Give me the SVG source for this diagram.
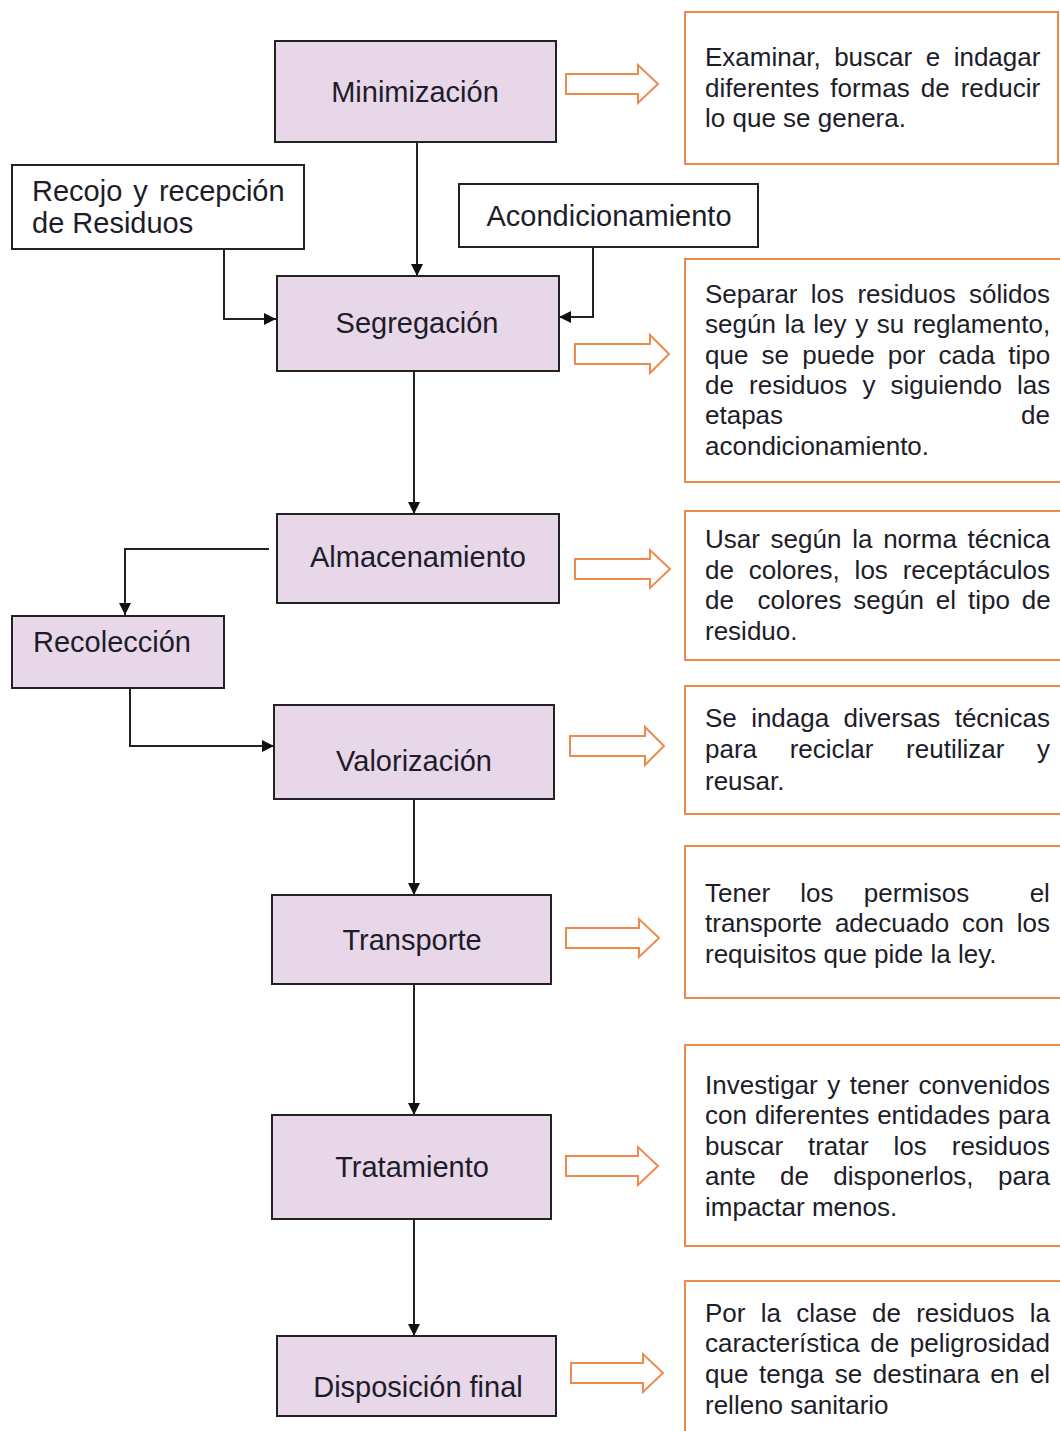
<svg xmlns="http://www.w3.org/2000/svg" width="1060" height="1431" viewBox="0 0 1060 1431">
  <style>
    .step { fill: #e8d6e9; stroke: #222; stroke-width: 2; }
    .side { fill: #fff; stroke: #222; stroke-width: 2; }
    .note { fill: #fff; stroke: #ef8a4e; stroke-width: 2; }
    .block { fill: #fff; stroke: #ef8a4e; stroke-width: 2; stroke-linejoin: miter; }
    .lbl { font-family: "Liberation Sans", Arial, sans-serif; font-size: 29px; fill: #1d1d29; }
    .mid { text-anchor: middle; }
    .txt { font-family: "Liberation Sans", Arial, sans-serif; font-size: 26px; fill: #1d1d29; }
    .wire { fill: none; stroke: #222; stroke-width: 2; }
  </style>
  <defs>
    <marker id="head" viewBox="0 0 10 10" refX="10" refY="5" markerWidth="12" markerHeight="12" markerUnits="userSpaceOnUse" orient="auto">
      <path d="M0,0 L10,5 L0,10 Z" fill="#111"/>
    </marker>
  </defs>

  <rect width="1060" height="1431" fill="#fff"/>

  <!-- connectors -->
  <g id="connectors">
    <path class="wire" d="M417,142 V276" marker-end="url(#head)"/>
    <path class="wire" d="M224,249 V319 H276" marker-end="url(#head)"/>
    <path class="wire" d="M593,247 V317 H559" marker-end="url(#head)"/>
    <path class="wire" d="M414,371 V514" marker-end="url(#head)"/>
    <path class="wire" d="M269,549 H125 V615" marker-end="url(#head)"/>
    <path class="wire" d="M130,688 V746 H274" marker-end="url(#head)"/>
    <path class="wire" d="M414,799 V895" marker-end="url(#head)"/>
    <path class="wire" d="M414,984 V1115" marker-end="url(#head)"/>
    <path class="wire" d="M414,1219 V1336" marker-end="url(#head)"/>
  </g>

  <!-- hollow arrows pointing to the notes -->
  <g id="pointers">
    <path class="block" d="M566,74 H638 V65 L658,84 L638,103 V94 H566 Z"/>
    <path class="block" d="M575,344 H650 V335 L669,354 L650,373 V364 H575 Z"/>
    <path class="block" d="M575,559 H650 V550 L670,569 L650,588 V579 H575 Z"/>
    <path class="block" d="M570,736 H645 V727 L664,746 L645,765 V756 H570 Z"/>
    <path class="block" d="M566,928 H639 V919 L659,938 L639,957 V948 H566 Z"/>
    <path class="block" d="M566,1156 H638 V1147 L658,1166 L638,1185 V1176 H566 Z"/>
    <path class="block" d="M571,1363 H643 V1354 L663,1373 L643,1392 V1383 H571 Z"/>
  </g>

  <!-- process steps -->
  <g id="minimizacion">
    <rect class="step" x="275" y="41" width="281" height="101"/>
    <text class="lbl mid" x="415" y="102">Minimización</text>
  </g>
  <g id="recojo">
    <rect class="side" x="12" y="165" width="292" height="84"/>
    <text class="lbl" x="32" y="201" word-spacing="3">Recojo y recepción</text>
    <text class="lbl" x="32" y="233">de Residuos</text>
  </g>
  <g id="acondicionamiento">
    <rect class="side" x="459" y="184" width="299" height="63"/>
    <text class="lbl mid" x="609" y="226">Acondicionamiento</text>
  </g>
  <g id="segregacion">
    <rect class="step" x="277" y="276" width="282" height="95"/>
    <text class="lbl mid" x="417" y="333">Segregación</text>
  </g>
  <g id="almacenamiento">
    <rect class="step" x="277" y="514" width="282" height="89"/>
    <text class="lbl mid" x="418" y="567">Almacenamiento</text>
  </g>
  <g id="recoleccion">
    <rect class="step" x="12" y="616" width="212" height="72"/>
    <text class="lbl" x="33" y="652">Recolección</text>
  </g>
  <g id="valorizacion">
    <rect class="step" x="274" y="705" width="280" height="94"/>
    <text class="lbl mid" x="414" y="771">Valorización</text>
  </g>
  <g id="transporte">
    <rect class="step" x="272" y="895" width="279" height="89"/>
    <text class="lbl mid" x="412" y="950">Transporte</text>
  </g>
  <g id="tratamiento">
    <rect class="step" x="272" y="1115" width="279" height="104"/>
    <text class="lbl mid" x="412" y="1177">Tratamiento</text>
  </g>
  <g id="disposicion">
    <rect class="step" x="277" y="1336" width="279" height="80"/>
    <text class="lbl mid" x="418" y="1397">Disposición final</text>
  </g>

  <!-- notes -->
  <g id="nota-minimizacion">
    <rect class="note" x="685" y="12" width="373" height="152"/>
    <text class="txt" x="705" y="66" word-spacing="6.3">Examinar, buscar e indagar</text>
    <text class="txt" x="705" y="97" word-spacing="3.8">diferentes formas de reducir</text>
    <text class="txt" x="705" y="127">lo que se genera.</text>
  </g>
  <g id="nota-segregacion">
    <rect class="note" x="685" y="259" width="380" height="223"/>
    <text class="txt" x="705" y="303" word-spacing="6.1">Separar los residuos sólidos</text>
    <text class="txt" x="705" y="333" word-spacing="1.4">según la ley y su reglamento,</text>
    <text class="txt" x="705" y="364" word-spacing="6">que se puede por cada tipo</text>
    <text class="txt" x="705" y="394" word-spacing="7.9">de residuos y siguiendo las</text>
    <text class="txt" x="705" y="424">etapas</text>
    <text class="txt" x="1050" y="424" text-anchor="end">de</text>
    <text class="txt" x="705" y="455">acondicionamiento.</text>
  </g>
  <g id="nota-almacenamiento">
    <rect class="note" x="685" y="511" width="380" height="149"/>
    <text class="txt" x="705" y="548" word-spacing="3.5">Usar según la norma técnica</text>
    <text class="txt" x="705" y="579" word-spacing="7.6">de colores, los receptáculos</text>
    <text class="txt" x="705" y="609" word-spacing="4.6" xml:space="preserve">de  colores según el tipo de</text>
    <text class="txt" x="705" y="640">residuo.</text>
  </g>
  <g id="nota-valorizacion">
    <rect class="note" x="685" y="686" width="380" height="128"/>
    <text class="txt" x="705" y="727" word-spacing="7.1">Se indaga diversas técnicas</text>
    <text class="txt" x="705" y="758" word-spacing="25.4">para reciclar reutilizar y</text>
    <text class="txt" x="705" y="790">reusar.</text>
  </g>
  <g id="nota-transporte">
    <rect class="note" x="685" y="846" width="380" height="152"/>
    <text class="txt" x="705" y="902" word-spacing="23" xml:space="preserve">Tener los permisos  el</text>
    <text class="txt" x="705" y="932" word-spacing="5.6">transporte adecuado con los</text>
    <text class="txt" x="705" y="963">requisitos que pide la ley.</text>
  </g>
  <g id="nota-tratamiento">
    <rect class="note" x="685" y="1045" width="380" height="201"/>
    <text class="txt" x="705" y="1094" word-spacing="2.3">Investigar y tener convenidos</text>
    <text class="txt" x="705" y="1124" word-spacing="0.8">con diferentes entidades para</text>
    <text class="txt" x="705" y="1155" word-spacing="17.7">buscar tratar los residuos</text>
    <text class="txt" x="705" y="1185" word-spacing="17.2">ante de disponerlos, para</text>
    <text class="txt" x="705" y="1216">impactar menos.</text>
  </g>
  <g id="nota-disposicion">
    <rect class="note" x="685" y="1281" width="380" height="170"/>
    <text class="txt" x="705" y="1322" word-spacing="8">Por la clase de residuos la</text>
    <text class="txt" x="705" y="1352" word-spacing="3.4">característica de peligrosidad</text>
    <text class="txt" x="705" y="1383" word-spacing="3.4">que tenga se destinara en el</text>
    <text class="txt" x="705" y="1414">relleno sanitario</text>
  </g>
</svg>
